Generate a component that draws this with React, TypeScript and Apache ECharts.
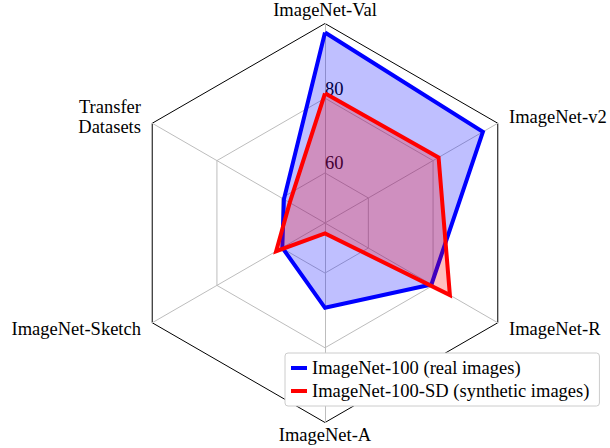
import React, { useEffect, useRef } from 'react';
import * as echarts from 'echarts';

// Indicators in ECharts order (counter-clockwise from the top)
const indicatorNames = ['ImageNet-Val', 'Transfer\nDatasets', 'ImageNet-Sketch', 'ImageNet-A', 'ImageNet-R', 'ImageNet-v2'];
const realValues = [97.6, 59.3, 59.8, 69.3, 79.5, 95.4];
const synthValues = [81.3, 57.5, 61.7, 49.4, 85.2, 81.7];
const seriesNames = ['ImageNet-100 (real images)', 'ImageNet-100-SD (synthetic images)'];
const tickLabels = [60, 80, 100];
const axisMin = 46.6;
const axisMax = 100;

const FONT = "'Liberation Serif', 'Times New Roman', serif";
const FS = 18.5;

export default function App() {
  const ref = useRef<HTMLDivElement>(null);
  useEffect(() => {
    if (!ref.current) return;
    const chart = echarts.init(ref.current, undefined, { renderer: 'svg' });
    const nameGaps = [4, 13, 13, 2, 13, 13];
    const center = [325, 223];
    const R = 199.5;
    const r60 = ((tickLabels[0] - axisMin) / (axisMax - axisMin)) * R;
    chart.setOption({
      animation: false,
      backgroundColor: '#fff',
      radar: [
        {
          center,
          radius: R,
          startAngle: 90,
          shape: 'polygon',
          splitNumber: 1,
          axisName: { color: '#000', fontSize: FS, fontFamily: FONT, lineHeight: 20 },
          indicator: indicatorNames.map((n, i) => ({ name: n, min: axisMin, max: axisMax, nameGap: nameGaps[i] })),
          axisLine: { lineStyle: { color: '#bdbdbd', width: 1 } },
          splitLine: { show: false },
          splitArea: { show: false },
          axisLabel: { show: false },
          axisTick: { show: false },
        },
        {
          center,
          radius: [r60, R],
          startAngle: 90,
          shape: 'polygon',
          splitNumber: tickLabels.length - 1,
          axisName: { show: false },
          indicator: indicatorNames.map((n, i) => ({
            name: '',
            min: tickLabels[0],
            max: tickLabels[tickLabels.length - 1],
            axisLabel: i === 0 ? {
              show: true,
              margin: 0,
              align: 'left',
              verticalAlign: 'bottom',
              color: '#000',
              fontSize: FS,
              fontFamily: FONT,
              formatter: (v: number) => (v === tickLabels[tickLabels.length - 1] ? '' : String(v)),
            } : { show: false },
          })),
          axisLine: { show: false },
          splitLine: { lineStyle: { color: ['#bdbdbd', '#bdbdbd', '#000'], width: 1 } },
          splitArea: { show: false },
          axisLabel: { show: false },
          axisTick: { show: false },
        },
      ],
      legend: {
        orient: 'vertical',
        left: 285,
        top: 353,
        padding: [5, 10, 5, 6],
        itemGap: 3,
        itemWidth: 16,
        itemHeight: 4,
        backgroundColor: '#fff',
        borderColor: '#cccccc',
        borderWidth: 1,
        borderRadius: 3,
        textStyle: { color: '#000', fontSize: FS, fontFamily: FONT, lineHeight: 20 },
        data: [
          { name: seriesNames[0], icon: 'rect', itemStyle: { color: '#0000ff' } },
          { name: seriesNames[1], icon: 'rect', itemStyle: { color: '#ff0000' } },
        ],
      },
      series: [
        {
          type: 'radar',
          radarIndex: 0,
          symbol: 'none',
          emphasis: { disabled: true },
          data: [
            {
              name: seriesNames[0],
              value: realValues,
              itemStyle: { color: '#0000ff' },
              lineStyle: { color: '#0000ff', width: 4, join: 'miter', miterLimit: 20 },
              areaStyle: { color: '#0000ff', opacity: 0.25 },
            },
            {
              name: seriesNames[1],
              value: synthValues,
              itemStyle: { color: '#ff0000' },
              lineStyle: { color: '#ff0000', width: 4, join: 'miter', miterLimit: 20 },
              areaStyle: { color: '#ff0000', opacity: 0.25 },
            },
          ],
        },
      ],
    });
    return () => chart.dispose();
  }, []);
  return <div ref={ref} style={{ position: 'absolute', left: 0, top: 0, width: 610, height: 448 }} />;
}
